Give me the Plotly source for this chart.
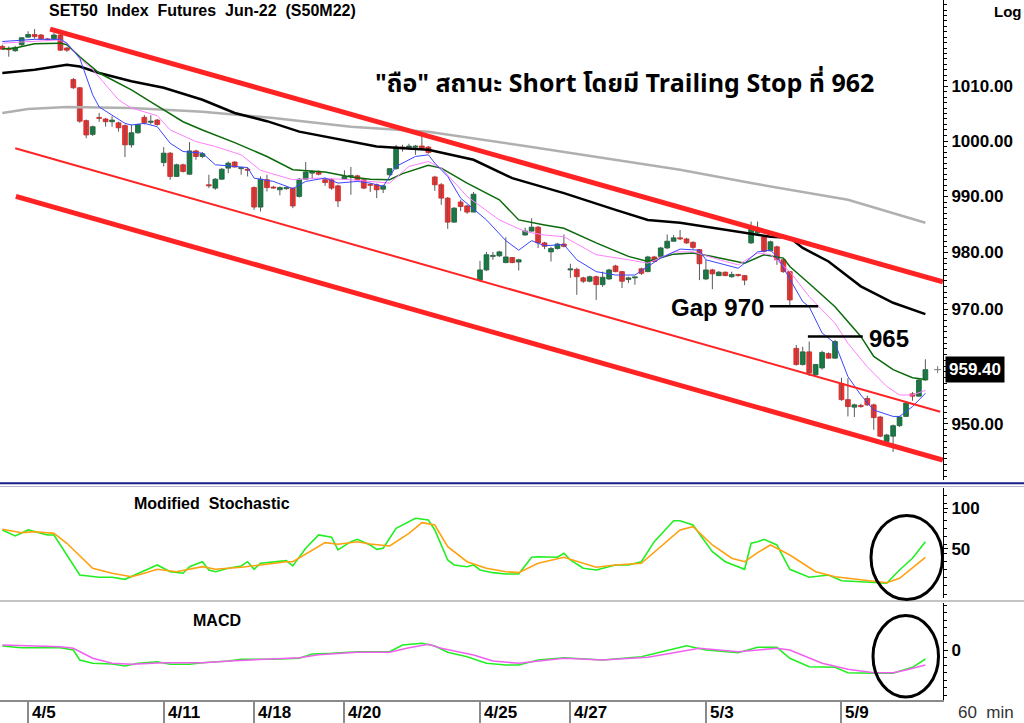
import math
import plotly.graph_objects as go

# ---------------- data ----------------
OPEN = [1017.3,1016.8,1016.5,1017.6,1019.0,1019.5,1019.4,1018.6,1018.7,1019.4,
        1017.0,1011.2,1009.7,1003.7,1001.2,1004.2,1004.0,1003.5,1003.3,1002.8,
        999.3,1001.5,1004.3,1003.4,1003.8,996.1,997.8,993.6,995.7,994.0,
        998.2,997.2,992.1,991.5,993.1,995.1,996.2,995.0,994.9,991.6,
        988.1,993.0,991.6,991.2,991.4,991.5,990.0,993.1,994.2,994.5,
        993.0,993.0,991.9,993.1,993.6,993.7,993.0,992.1,992.1,991.3,
        993.9,995.0,998.9,998.9,998.9,999.1,998.9,993.5,992.1,989.7,
        985.4,989.0,988.3,987.2,975.1,976.9,979.3,979.4,978.2,979.1,
        978.3,983.1,983.8,984.5,981.7,980.1,980.7,981.5,976.9,977.0,
        975.5,974.9,975.7,974.3,975.3,977.6,976.6,975.2,975.5,977.1,
        976.6,979.2,979.3,980.8,982.0,982.6,982.4,981.8,980.5,975.3,
        976.9,975.9,976.5,975.7,976.1,975.9,981.7,983.5,982.8,980.3,
        981.0,978.7,976.6,963.1,960.3,962.5,958.5,959.7,962.2,961.4,
        957.0,954.2,952.9,953.2,954.4,953.3,951.2,947.0,947.9,949.7,
        951.3,955.2,954.8,957.6]
HIGH = [1017.6,1017.3,1017.4,1019.0,1020.1,1020.5,1019.6,1018.8,1019.8,1019.6,
        1017.2,1011.5,1009.8,1003.9,1002.8,1005.1,1004.2,1004.5,1003.5,1003.0,
        1003.0,1003.1,1004.7,1004.7,1004.0,998.9,998.0,995.9,995.9,999.8,
        998.4,998.0,993.9,993.3,995.1,996.3,996.3,995.3,995.2,991.8,
        993.6,993.9,991.9,991.8,991.8,991.6,993.3,996.2,994.7,994.7,
        993.4,993.3,992.1,994.7,995.3,993.9,993.1,992.4,992.3,992.1,
        995.1,999.3,999.3,999.5,999.3,1000.9,999.1,993.7,992.4,989.9,
        988.1,989.4,988.5,990.8,978.5,980.1,980.1,980.3,982.7,979.2,
        978.9,984.4,986.1,984.7,981.9,981.0,981.7,983.2,978.0,977.3,
        975.7,975.9,975.9,976.6,977.1,977.8,976.7,975.7,975.7,977.3,
        979.4,979.4,981.0,983.2,983.1,984.0,982.6,982.0,980.6,978.7,
        977.1,976.7,976.6,976.6,976.2,976.0,985.5,985.5,983.0,982.1,
        981.2,979.0,976.7,963.7,963.4,964.3,960.4,962.7,962.4,964.6,
        958.0,957.9,953.5,953.5,954.9,953.5,951.4,948.3,949.9,951.4,
        953.8,955.5,957.8,961.2]
LOW = [1016.7,1015.4,1016.3,1017.4,1018.9,1018.7,1018.5,1018.3,1018.5,1016.5,
       1016.3,1009.5,1003.3,1000.5,1000.9,1003.5,1002.6,1002.6,1001.7,997.1,
       998.8,1001.3,1003.0,1003.0,1002.8,995.4,993.0,993.5,994.3,993.9,
       996.6,996.9,991.5,991.2,993.0,994.2,995.2,993.9,993.6,987.6,
       987.3,990.9,991.4,990.2,991.2,987.9,989.8,993.0,993.3,993.8,
       991.9,991.2,988.1,993.0,990.3,992.8,991.3,990.8,989.7,990.6,
       993.7,994.8,998.1,998.4,997.5,998.4,997.7,991.0,988.5,984.2,
       985.3,987.4,986.9,987.2,974.8,976.7,978.7,979.2,978.1,978.1,
       976.8,983.0,983.7,980.8,980.6,978.4,980.5,980.9,975.5,972.5,
       974.6,974.7,971.6,973.9,975.1,976.5,973.7,974.6,974.3,976.0,
       976.5,978.3,979.2,980.6,981.9,982.2,981.5,980.6,975.1,975.1,
       973.5,975.8,975.8,975.5,975.7,974.2,981.5,983.1,980.0,980.2,
       977.8,976.4,970.5,960.1,960.1,958.3,958.2,959.4,961.3,961.3,
       954.0,951.3,951.2,952.8,953.1,949.0,947.7,946.8,945.2,949.5,
       951.2,954.0,954.7,957.5]
CLOSE = [1016.8,1016.7,1017.1,1018.9,1019.5,1019.1,1018.7,1018.5,1019.4,1016.6,
         1016.6,1009.7,1003.6,1001.1,1002.6,1004.1,1003.5,1003.8,1002.4,999.3,
         1001.5,1003.0,1003.3,1003.6,1003.0,997.8,993.6,995.7,994.5,998.2,
         997.2,997.7,991.9,993.1,994.9,996.0,995.3,995.2,994.7,988.1,
         993.1,991.6,991.5,991.6,991.6,988.3,993.1,994.4,994.5,994.0,
         992.5,991.5,989.2,993.6,993.7,993.0,991.5,992.0,991.2,991.9,
         995.0,998.9,998.6,999.0,999.0,998.7,997.9,992.1,989.7,985.4,
         987.9,988.2,987.2,990.4,976.9,979.6,979.4,980.1,979.2,978.2,
         978.7,983.8,984.5,981.7,981.1,980.7,981.5,981.1,977.1,975.7,
         974.9,975.7,974.3,975.6,976.9,976.6,974.9,975.5,975.6,976.3,
         979.2,978.4,980.8,982.0,982.6,982.4,981.7,980.9,978.0,976.9,
         976.2,976.5,975.9,976.1,975.9,975.1,984.6,984.0,980.2,981.9,
         978.7,976.6,971.6,960.3,962.5,958.8,960.3,962.4,961.4,964.3,
         954.2,953.0,953.3,953.0,953.3,951.1,947.9,948.1,949.7,951.2,
         953.6,954.8,957.6,959.4]
BAR = list(range(len(CLOSE)))

# moving averages (bar index, value)
MA200_IDX = [0, 4, 10, 20, 31, 42, 54, 66, 82, 97, 105, 116, 131, 143]
MA200 = [1005.1, 1005.8, 1006.2, 1006.0, 1005.3, 1004.2, 1002.6, 1001.7, 998.9, 996.2, 994.8, 992.4, 989.4, 985.3]
MA75_IDX = [0,5,10,12,15,20,25,31,36,41,46,51,58,66,73,79,87,95,100,105,109,115,119,122,124,128,133,138,143]
MA75 = [1012.4,1013.0,1013.9,1013.6,1012.4,1010.9,1009.7,1007.5,1005.1,1003.6,
        1001.7,1000.6,999.0,998.4,996.6,993.3,990.6,987.6,985.8,985.3,
        984.6,983.5,982.8,982.6,980.8,978.4,974.0,971.1,969.1]
MA25_IDX = [0,2,5,9,10,12,15,20,24,28,31,36,41,45,50,54,57,60,62,66,68,72,77,80,84,87,92,97,100,104,
            107,110,115,118,121,122,125,129,133,135,138,141,143]
MA25 = [1016.8,1017.0,1017.8,1017.9,1017.6,1015.4,1012.4,1009.3,1006.4,1003.5,
        1002.0,999.7,997.2,994.8,994.4,993.5,993.1,993.0,994.1,995.6,
        995.1,992.4,989.4,985.8,984.9,984.3,981.7,979.3,978.4,979.7,
        979.9,979.3,978.1,979.6,979.0,977.5,974.5,970.4,965.2,961.7,
        959.4,958.0,957.7]
MA10_IDX = [0,5,9,10,12,14,18,20,24,26,30,33,37,40,45,49,54,60,63,66,68,72,77,81,84,87,92,97,100,104,
            107,112,114,117,119,122,125,129,131,134,137,139,141,143]
MA10 = [1017.9,1018.2,1018.5,1017.9,1015.1,1013.0,1007.5,1006.0,1004.6,1002.0,
        999.9,999.0,997.5,994.7,993.0,993.3,993.0,992.4,995.4,996.3,
        995.1,990.0,985.8,983.7,983.1,982.8,979.6,978.7,978.1,980.1,
        980.1,978.4,977.8,979.9,979.6,976.6,972.2,967.5,964.0,959.9,
        956.5,955.0,955.0,955.8]
MA5_IDX = [0,5,9,10,12,14,15,19,20,22,24,26,28,31,33,38,39,42,45,47,50,52,55,57,59,61,64,66,67,69,
           71,75,78,80,82,84,87,89,92,95,98,100,102,105,108,109,114,115,117,119,120,122,124,125,127,129,
           131,133,135,138,139,141,143]
MA5 = [1018.2,1018.6,1018.6,1017.9,1015.1,1008.4,1006.2,1003.2,1002.9,1003.2,
       1002.6,999.6,998.1,997.8,995.7,995.2,993.3,992.7,991.4,992.7,
       993.3,992.4,992.7,992.4,991.8,995.4,997.2,997.5,996.0,993.6,
       989.7,985.8,982.1,980.4,982.1,981.2,981.4,978.7,976.6,976.0,
       976.0,977.5,979.0,980.6,980.4,978.7,977.2,978.1,980.1,980.4,
       979.3,975.3,971.3,970.4,965.8,964.0,958.2,955.0,952.4,951.3,
       951.3,953.0,955.3]

# trend channel (bar index, price)
TREND_UPPER_X, TREND_UPPER_Y = [7.4, 145.7], [1020.5, 974.8]
TREND_MID_X, TREND_MID_Y = [2.0, 145.3], [998.7, 952.1]
TREND_LOW_X, TREND_LOW_Y = [2.1, 145.7], [990.0, 943.8]
GAP_X, GAP_LEVEL = [118.9, 126.4], 970.5
L965_X, L965_LEVEL = [124.8, 133.3], 965.2

# Modified Stochastic
K_IDX = [0,2,4,7,8,9,12,15,17,19,20,22,24,26,28,29,31,32,33,35,37,38,39,40,44,45,47,49,51,52,
         54,55,57,58,59,61,64,66,67,69,70,72,73,74,76,78,80,82,83,86,87,88,90,92,95,97,99,101,104,105,
         107,110,112,115,116,117,118,120,122,125,128,130,133,135,137,139,141,143]
K = [73.2,65.9,73.2,67.1,67.1,54.9,18.3,15.5,15.5,13.0,16.2,23.5,30.5,22.3,20.4,28.4,34.5,24.4,22.3,26.5,
     29.3,34.5,25.2,32.6,35.7,29.3,50.9,67.1,64.3,48.8,58.9,61.8,54.9,49.6,50.9,75.2,87.4,85.4,73.2,36.6,
     30.5,28.4,30.5,24.4,21.1,19.5,19.5,39.9,40.6,39.9,44.8,36.6,26.5,24.4,30.5,30.5,34.5,58.9,84.5,84.5,
     79.3,46.7,34.5,25.2,57.0,58.9,61.8,54.9,25.2,15.5,18.3,11.3,10.1,8.9,8.2,24.4,38.7,58.9]
D_IDX = [0,3,5,8,10,14,17,20,22,24,27,31,33,37,40,44,45,48,50,52,55,57,60,63,65,67,69,72,75,78,
         80,83,85,87,92,95,99,102,105,107,110,113,115,117,119,122,126,129,133,137,139,143]
D = [74.0,69.9,71.1,69.1,57.0,26.5,20.4,16.2,20.4,25.2,22.3,28.4,25.2,27.7,30.5,34.5,34.5,48.8,57.7,55.7,
     58.9,56.1,53.7,69.1,82.1,79.3,52.8,34.5,26.5,22.3,21.1,32.6,36.6,39.9,27.7,30.5,32.6,52.8,73.2,77.2,
     54.9,38.7,34.5,45.5,54.9,42.7,22.3,16.2,12.2,8.9,14.3,39.9]

# MACD
M_IDX = [0,3,9,11,12,14,17,19,21,24,26,29,31,35,37,42,46,48,51,55,60,62,65,67,69,72,75,78,80,83,
         87,93,99,102,106,109,114,117,120,122,125,129,131,135,138,141,143]
MACD = [0.8,0.46,0.46,0.0,-2.0,-2.66,-2.8,-3.2,-2.66,-2.34,-2.86,-2.86,-2.54,-2.2,-1.86,-1.86,-1.66,-0.8,-0.66,-0.34,
        -0.34,1.0,1.34,0.8,-0.46,-1.34,-2.66,-3.0,-3.0,-2.0,-1.54,-2.0,-1.34,-0.34,0.86,0.0,-0.54,0.54,0.54,-1.66,
        -3.34,-3.46,-4.54,-4.66,-4.66,-3.46,-1.8]
S_IDX = [0,9,11,14,17,20,25,31,36,41,46,49,55,60,63,66,68,73,76,80,87,93,100,108,114,120,122,127,131,135,138,140,143]
SIGNAL = [1.0,0.66,0.34,-1.66,-2.66,-2.86,-2.54,-2.54,-2.14,-1.86,-1.54,-0.94,-0.46,-0.46,0.46,1.14,0.34,-1.0,-2.2,-2.66,
          -1.66,-2.0,-1.46,0.34,-0.34,0.34,0.0,-2.66,-3.86,-4.54,-4.54,-4.0,-3.0]

# axis labels
DAY_TICKS = [4, 25, 39, 53, 74, 88, 109, 130]
DAY_LABELS = ["4/5", "4/11", "4/18", "4/20", "4/25", "4/27", "5/3", "5/9"]
PRICE_TICKS = [950, 960, 970, 980, 990, 1000, 1010]
PRICE_LABELS = ["950.00", "", "970.00", "980.00", "990.00", "1000.00", "1010.00"]

# ---------------- layout helpers ----------------
W, H = 1024, 723
MR, MB = 81, 23
PW, PH = W - MR, H - MB
FONT = "Liberation Sans, Arial, sans-serif"


def px(x):
    return x / PW


def py(y):
    return (PH - y) / PH


XR = [-0.36, 145.73]

fig = go.Figure()

# ---- candles: bodies as bars, wicks as line segments ----
UP_FILL, UP_EDGE = "#00843d", "#1d5c3a"
DN_FILL, DN_EDGE = "#ff2b2b", "#d42020"
WICK = "#5a5a5a"
MIN_BODY = 0.18
for up in (True, False):
    idx = [i for i in BAR if (CLOSE[i] >= OPEN[i]) == up]
    wx, wy = [], []
    for i in idx:
        wx += [i, i, None]
        wy += [LOW[i], HIGH[i], None]
    fig.add_trace(go.Scatter(x=wx, y=wy, mode="lines", line=dict(color=WICK, width=1),
                             xaxis="x", yaxis="y", showlegend=False, hoverinfo="skip"))
    base = [min(OPEN[i], CLOSE[i]) for i in idx]
    size = [max(abs(CLOSE[i] - OPEN[i]), MIN_BODY) for i in idx]
    fig.add_trace(go.Bar(x=idx, y=size, base=base, width=0.74,
                         marker=dict(color=UP_FILL if up else DN_FILL,
                                     line=dict(color=UP_EDGE if up else DN_EDGE, width=0.8)),
                         xaxis="x", yaxis="y", showlegend=False, hoverinfo="skip"))


def line(xs, ys, color, width, xa="x", ya="y"):
    fig.add_trace(go.Scatter(x=xs, y=ys, mode="lines", line=dict(color=color, width=width),
                             xaxis=xa, yaxis=ya, showlegend=False, hoverinfo="skip"))


line(MA200_IDX, MA200, "#b0b0b0", 2.5)
line(MA75_IDX, MA75, "#000000", 2.5)
line(MA25_IDX, MA25, "#0b6a0b", 1.5)
line(MA10_IDX, MA10, "#ff80ff", 1)
line(MA5_IDX, MA5, "#3a46ff", 1)
line(TREND_UPPER_X, TREND_UPPER_Y, "#ff2323", 5)
line(TREND_MID_X, TREND_MID_Y, "#ff2323", 2)
line(TREND_LOW_X, TREND_LOW_Y, "#ff2323", 5)
line(GAP_X, [GAP_LEVEL, GAP_LEVEL], "#000000", 2.5)
line(L965_X, [L965_LEVEL, L965_LEVEL], "#000000", 2.5)
fig.add_trace(go.Scatter(x=[BAR[-1] + 1.9], y=[CLOSE[-1]], mode="markers",
                         marker=dict(symbol="cross-thin", size=5, line=dict(color="#777", width=1)),
                         xaxis="x", yaxis="y", showlegend=False, hoverinfo="skip"))

line(K_IDX, K, "#22ee22", 1.6, "x2", "y2")
line(D_IDX, D, "#ffa010", 1.6, "x2", "y2")
line(M_IDX, MACD, "#22ee22", 1.6, "x3", "y3")
line(S_IDX, SIGNAL, "#f060f0", 1.6, "x3", "y3")

axis_common = dict(showgrid=False, zeroline=False, range=XR, showticklabels=False)
tickfont = dict(family=FONT, size=17, color="black")

fig.update_layout(
    width=W, height=H,
    margin=dict(l=0, r=MR, t=0, b=MB, pad=0),
    paper_bgcolor="white", plot_bgcolor="white",
    showlegend=False, barmode="overlay",
    font=dict(family=FONT, color="black"),
    xaxis=dict(domain=[0, 1], anchor="y", **axis_common),
    xaxis2=dict(domain=[0, 1], anchor="y2", matches="x", **axis_common),
    xaxis3=dict(domain=[0, 1], anchor="y3", matches="x", showline=True, linecolor="#8a8a8a",
                linewidth=1.5, ticks="outside", tickvals=DAY_TICKS, ticklen=23, tickcolor="#8a8a8a",
                tickwidth=1.5, **axis_common),
    yaxis=dict(domain=[py(480), 1], anchor="x", side="right", type="log",
               range=[math.log10(940.40), math.log10(1025.89)],
               tickvals=PRICE_TICKS, ticktext=["<b>%s</b>" % t if t else "" for t in PRICE_LABELS],
               ticks="outside", ticklen=4, tickcolor="black", showline=True, linecolor="black",
               linewidth=1, showgrid=False, zeroline=False, tickfont=tickfont,
               minor=dict(tickvals=list(range(941, 1026)), ticks="outside", ticklen=3, tickcolor="black")),
    yaxis2=dict(domain=[py(598), py(488)], anchor="x2", side="right", range=[-9.8, 124.4],
                tickvals=[50, 100], ticktext=["<b>50</b>", "<b>100</b>"], ticks="outside", ticklen=4,
                tickcolor="black", showline=True, linecolor="black", linewidth=1, showgrid=False,
                zeroline=False, tickfont=tickfont,
                minor=dict(tickvals=list(range(-5, 125, 10)), ticks="outside", ticklen=3, tickcolor="black")),
    yaxis3=dict(domain=[0, py(603)], anchor="x3", side="right", range=[-10, 9.4],
                tickvals=[0], ticktext=["<b>0</b>"], ticks="outside", ticklen=4,
                tickcolor="black", showline=True, linecolor="black", linewidth=1, showgrid=False,
                zeroline=False, tickfont=tickfont,
                minor=dict(tickvals=[-9, -7.5, -6, -4.5, -3, -1.5, 1.5, 3, 4.5, 6, 7.5, 9], ticks="outside",
                           ticklen=3, tickcolor="black")),
)

shapes = [
    dict(type="line", xref="paper", yref="paper", x0=0, x1=W / PW, y0=py(483.3), y1=py(483.3),
         line=dict(color="#1c1c8a", width=2)),
    dict(type="line", xref="paper", yref="paper", x0=0, x1=W / PW, y0=py(486.5), y1=py(486.5),
         line=dict(color="#b9b9c9", width=1.2)),
    dict(type="line", xref="paper", yref="paper", x0=0, x1=W / PW, y0=py(601), y1=py(601),
         line=dict(color="#c4c4c4", width=2.2)),
    dict(type="circle", xref="paper", yref="paper", x0=px(871), x1=px(942.5), y0=py(599.5), y1=py(515.5),
         line=dict(color="black", width=3)),
    dict(type="circle", xref="paper", yref="paper", x0=px(873), x1=px(938.5), y0=py(697), y1=py(615.5),
         line=dict(color="black", width=3)),
]
fig.update_layout(shapes=shapes)

ann = []


def text(x, y, s, size, anchor="left", bold=True, color="black", family=FONT):
    ann.append(dict(xref="paper", yref="paper", x=px(x), y=py(y), text=("<b>%s</b>" % s) if bold else s,
                    showarrow=False, xanchor=anchor, yanchor="middle",
                    font=dict(family=family, size=size, color=color)))


text(47, 11, "SET50&nbsp;&nbsp;Index&nbsp;&nbsp;Futures&nbsp;&nbsp;Jun-22&nbsp;&nbsp;(S50M22)", 16)
text(992, 12, "Log", 15)
text(624, 84, "\"ถือ\" สถานะ Short โดยมี Trailing Stop ที่ 962", 25, anchor="center",
     family="Noto Sans Thai, Liberation Sans, Arial, sans-serif")
text(766, 308, "Gap 970", 24, anchor="right")
text(867, 338, "965", 24)
text(132, 503, "Modified&nbsp;&nbsp;Stochastic", 16)
text(191, 620, "MACD", 16)
text(956, 712, "60&nbsp;&nbsp;min", 17, bold=False, color="#333333")
for t, lab in zip(DAY_TICKS, DAY_LABELS):
    xpix = 2.3 + 6.455 * t
    text(xpix + 2, 712, lab, 17)

ann.append(dict(xref="paper", yref="y", x=px(945), y=math.log10(CLOSE[-1]), text="<b>%.2f</b>" % CLOSE[-1],
                showarrow=False, xanchor="left", yanchor="middle", bgcolor="black", borderpad=3,
                font=dict(family=FONT, size=17, color="white")))
fig.update_layout(annotations=ann)

fig.write_html("out.html", config={"displayModeBar": False},
               post_script="document.body.style.margin='0';document.body.style.overflow='hidden';")
